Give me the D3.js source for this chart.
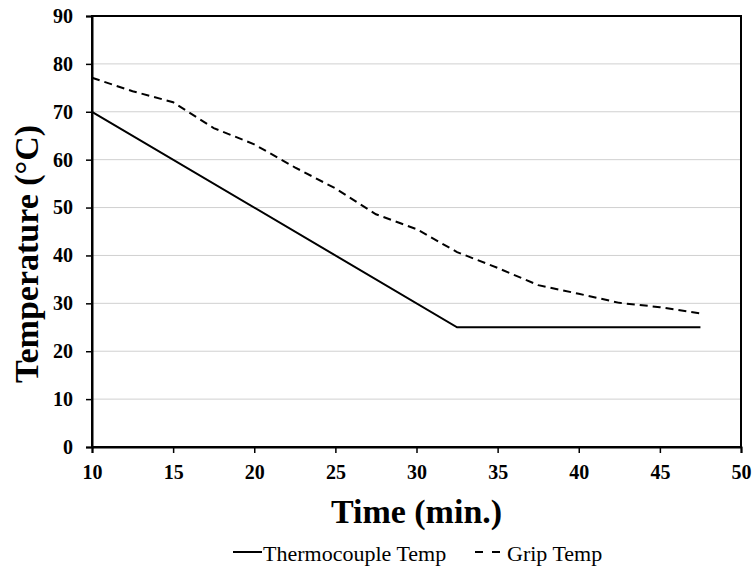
<!DOCTYPE html>
<html><head><meta charset="utf-8">
<script src="https://cdn.jsdelivr.net/npm/d3@7"></script>
<style>body{margin:0;background:#fff} text{font-family:'Liberation Serif','Times New Roman',serif}</style>
</head><body>
<svg id="c" width="753" height="569"></svg>
<script>
const timeThermo = [10, 32.5, 47.5];
const thermoTemp = [70, 25, 25];
const timeGrip = [10, 12.5, 15, 17.5, 20, 22.5, 25, 27.5, 30, 32.5, 35, 37.5, 40, 42.5, 45, 47.5];
const gripTemp = [77.1, 74.3, 72.0, 66.6, 63.2, 58.4, 54.0, 48.6, 45.5, 40.7, 37.4, 33.8, 32.0, 30.1, 29.2, 27.9];
const xTicks = [10, 15, 20, 25, 30, 35, 40, 45, 50];
const yTicks = [0, 10, 20, 30, 40, 50, 60, 70, 80, 90];
const seriesNames = ["Thermocouple Temp", "Grip Temp"];

const svg = d3.select("#c");
const L = 92, R = 741, T = 16, B = 447;
const x = d3.scaleLinear().domain([10, 50]).range([L, R]);
const y = d3.scaleLinear().domain([0, 90]).range([B, T]);
const font = "'Liberation Serif', 'Times New Roman', serif";

// gridlines
svg.append("g").selectAll("line").data(yTicks.filter(d => d > 0 && d < 90)).join("line")
  .attr("x1", L).attr("x2", R).attr("y1", d => y(d)).attr("y2", d => y(d))
  .attr("stroke", "#d0d0d0").attr("stroke-width", 1);

// frame
svg.append("rect").attr("x", L).attr("y", T).attr("width", R - L).attr("height", B - T)
  .attr("fill", "none").attr("stroke", "#000").attr("stroke-width", 2);

// axes
const xa = svg.append("g").attr("transform", `translate(0,${B})`)
  .call(d3.axisBottom(x).tickValues(xTicks).tickSize(6).tickPadding(12).tickFormat(d3.format("d")));
const ya = svg.append("g").attr("transform", `translate(${L},0)`)
  .call(d3.axisLeft(y).tickValues(yTicks).tickSize(6).tickPadding(13).tickFormat(d3.format("d")));
[xa, ya].forEach(a => {
  a.attr("font-family", font).attr("font-size", 20);
  a.select(".domain").attr("stroke", "#000").attr("stroke-width", 2);
  a.selectAll(".tick line").attr("stroke", "#000").attr("stroke-width", 1.5);
  a.selectAll(".tick text").style("font-family", font).style("font-weight", "bold").style("font-size", "20px").attr("fill", "#000");
});

// lines
const line = d3.line().x(d => x(d[0])).y(d => y(d[1]));
svg.append("path").datum(d3.zip(timeThermo, thermoTemp)).attr("d", line)
  .attr("fill", "none").attr("stroke", "#000").attr("stroke-width", 2);
svg.append("path").datum(d3.zip(timeGrip, gripTemp)).attr("d", line)
  .attr("fill", "none").attr("stroke", "#000").attr("stroke-width", 2).attr("stroke-dasharray", "8,5");

// axis titles
svg.append("text").attr("x", (L + R) / 2).attr("y", 523).attr("text-anchor", "middle")
  .style("font-family", font).style("font-weight", "bold").style("font-size", "34px").text("Time (min.)");
svg.append("text").attr("transform", `translate(38,254) rotate(-90)`).attr("text-anchor", "middle")
  .style("font-family", font).style("font-weight", "bold").style("font-size", "34px").text("Temperature (°C)");

// legend
const lg = svg.append("g");
lg.append("line").attr("x1", 233).attr("x2", 262).attr("y1", 552).attr("y2", 552).attr("stroke", "#000").attr("stroke-width", 2);
lg.append("text").attr("x", 263).attr("y", 561).style("font-family", font).style("font-size", "22px").text(seriesNames[0]);
lg.append("line").attr("x1", 475).attr("x2", 500).attr("y1", 552).attr("y2", 552).attr("stroke", "#000").attr("stroke-width", 2).attr("stroke-dasharray", "8,9");
lg.append("text").attr("x", 507).attr("y", 561).style("font-family", font).style("font-size", "22px").text(seriesNames[1]);
</script>
</body></html>
